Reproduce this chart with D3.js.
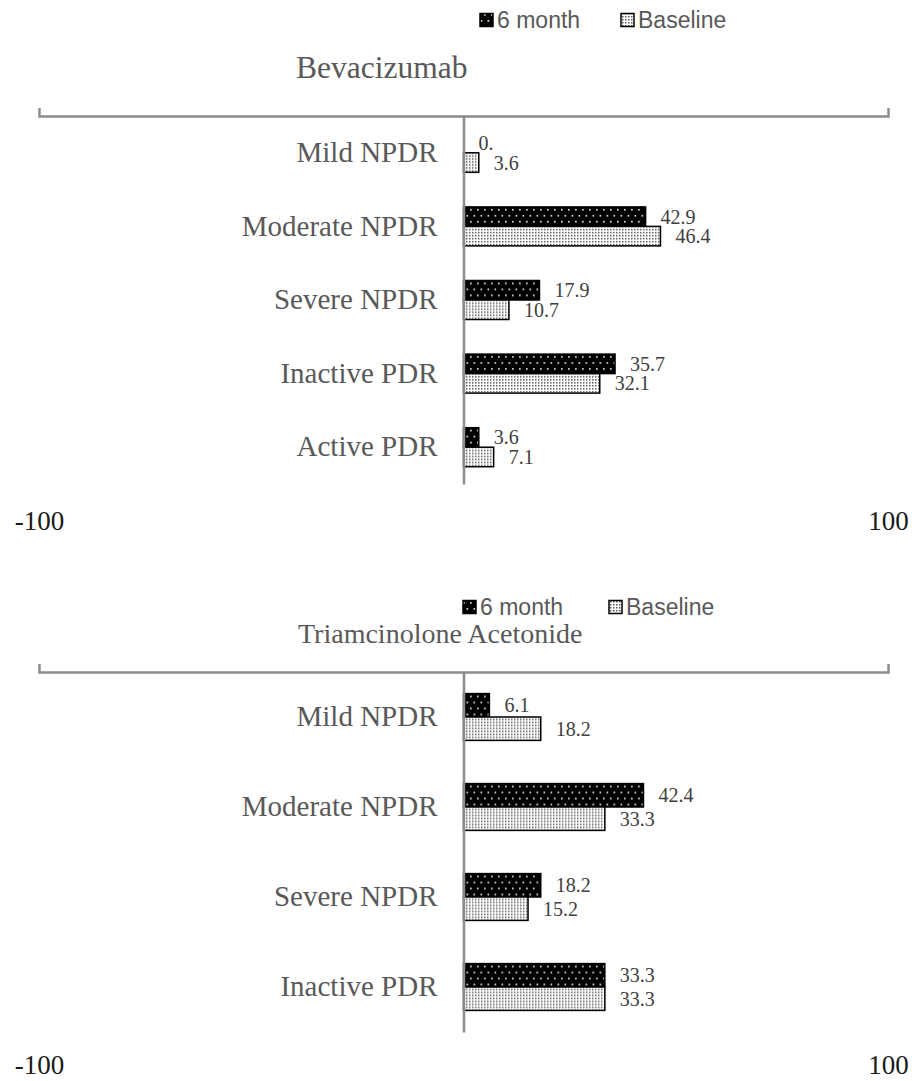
<!DOCTYPE html>
<html><head><meta charset="utf-8">
<script src="https://cdn.jsdelivr.net/npm/d3@7/dist/d3.min.js"></script>
<style>body{margin:0;background:#fff}</style>
</head><body>
<svg id="c" width="917" height="1081"></svg>
<script>
const seriesNames = ["6 month", "Baseline"];
const bevaCategories = ["Mild NPDR", "Moderate NPDR", "Severe NPDR", "Inactive PDR", "Active PDR"];
const beva6m = [0, 42.9, 17.9, 35.7, 3.6];
const bevaBaseline = [3.6, 46.4, 10.7, 32.1, 7.1];
const triCategories = ["Mild NPDR", "Moderate NPDR", "Severe NPDR", "Inactive PDR"];
const tri6m = [6.1, 42.4, 18.2, 33.3];
const triBaseline = [18.2, 33.3, 15.2, 33.3];
const xDomain = [-100, 100];
const xTickValues = [-100, 100];
const xTickLabels = ["-100", "100"];
const titles = ["Bevacizumab", "Triamcinolone Acetonide"];

const svg = d3.select("#c");
const defs = svg.append("defs");
// 6 month pattern: black with light dots
const p1 = defs.append("pattern").attr("id","pat6m").attr("patternUnits","userSpaceOnUse")
  .attr("width",7).attr("height",12);
p1.append("rect").attr("width",7).attr("height",12).attr("fill","#000");
p1.append("rect").attr("x",1).attr("y",2).attr("width",1.7).attr("height",1.7).attr("fill","#d6d6d6");
p1.append("rect").attr("x",4.5).attr("y",8).attr("width",1.7).attr("height",1.7).attr("fill","#d6d6d6");
// Baseline pattern: white with dense gray dots
const p2 = defs.append("pattern").attr("id","patBase").attr("patternUnits","userSpaceOnUse")
  .attr("width",3).attr("height",3);
p2.append("rect").attr("width",3).attr("height",3).attr("fill","#fff");
p2.append("rect").attr("x",1).attr("y",1).attr("width",1.5).attr("height",1.5).attr("fill","#5a5a5a");
const fills = {"6 month":"url(#pat6m)", "Baseline":"url(#patBase)"};

const serif = "'Liberation Serif','Times New Roman',serif";
const sans = "'Liberation Sans',Arial,sans-serif";
const fmt = v => v === 0 ? "0." : d3.format(".1f")(v);

function drawChart(cfg){
  const g = svg.append("g");
  const x = d3.scaleLinear().domain(xDomain).range([39, 888]);
  const y = d3.scaleBand().domain(cfg.categories).range([cfg.top, cfg.bottom])
    .paddingInner(cfg.padIn).paddingOuter(cfg.padIn/2);
  const ys = d3.scaleBand().domain(seriesNames).range([0, y.bandwidth()]);
  const rows = cfg.categories.map((c,i)=>({cat:c, vals:[cfg.s1[i], cfg.s2[i]]}));

  // legend
  const leg = g.append("g");
  seriesNames.forEach((s,i)=>{
    const lx = cfg.legendX[i];
    leg.append("rect").attr("x",lx).attr("y",cfg.legendY-6.5).attr("width",13).attr("height",13)
      .attr("fill",fills[s]).attr("stroke","#000").attr("stroke-width",1.5);
    leg.append("text").attr("x",lx+17).attr("y",cfg.legendY).attr("dy","0.36em")
      .attr("font-family",sans).attr("font-size",23).attr("fill","#595959").text(s);
  });
  // title
  g.append("text").attr("x",cfg.titleX).attr("y",cfg.titleY)
    .attr("font-family",serif).attr("font-size",cfg.titleSize).attr("fill","#595959").text(cfg.title);

  // bars
  const grp = g.selectAll("g.cat").data(rows).join("g").attr("class","cat")
    .attr("transform",d=>`translate(0,${y(d.cat)})`);
  seriesNames.forEach((s,si)=>{
    grp.append("rect").attr("x",x(0)).attr("y",ys(s))
      .attr("width",d=>x(d.vals[si])-x(0)).attr("height",ys.bandwidth())
      .attr("fill",fills[s]).attr("stroke",d=>d.vals[si]===0?"none":"#000").attr("stroke-width",1.5);
    grp.append("text").attr("x",d=>x(d.vals[si])+15).attr("y",ys(s)+ys.bandwidth()/2).attr("dy","0.35em")
      .attr("font-family",serif).attr("font-size",20).attr("fill","#404040").text(d=>fmt(d.vals[si]));
  });

  // top bracket axis
  const topAxis = g.append("g").attr("transform",`translate(0,${cfg.top})`)
    .call(d3.axisTop(x).tickValues([]).tickSizeOuter(8));
  topAxis.select(".domain").attr("stroke","#8c8c8c").attr("stroke-width",2.5);
  // category axis
  const yAxis = g.append("g").attr("transform",`translate(${x(0)},0)`)
    .call(d3.axisLeft(y).tickSize(0).tickPadding(26).tickSizeOuter(0));
  yAxis.select(".domain").attr("stroke","#8c8c8c").attr("stroke-width",2.5);
  yAxis.selectAll("text").attr("font-family",serif).attr("font-size",29).attr("fill","#595959");
  // bottom tick labels
  const bAxis = g.append("g").attr("transform",`translate(0,${cfg.tickY})`)
    .call(d3.axisBottom(x).tickValues(xTickValues).tickSize(0)
      .tickFormat((d,i)=>xTickLabels[i]));
  bAxis.select(".domain").remove();
  bAxis.selectAll("text").attr("font-family",serif).attr("font-size",27).attr("fill","#1a1a1a");
}

drawChart({categories:bevaCategories, s1:beva6m, s2:bevaBaseline, top:116, bottom:484, padIn:0.47,
  legendX:[480,621], legendY:20, title:titles[0], titleX:296, titleY:78, titleSize:31.5, tickY:508});
drawChart({categories:triCategories, s1:tri6m, s2:triBaseline, top:672, bottom:1032, padIn:0.48,
  legendX:[463,609], legendY:607, title:titles[1], titleX:298, titleY:643, titleSize:28, tickY:1052});
</script>
</body></html>
